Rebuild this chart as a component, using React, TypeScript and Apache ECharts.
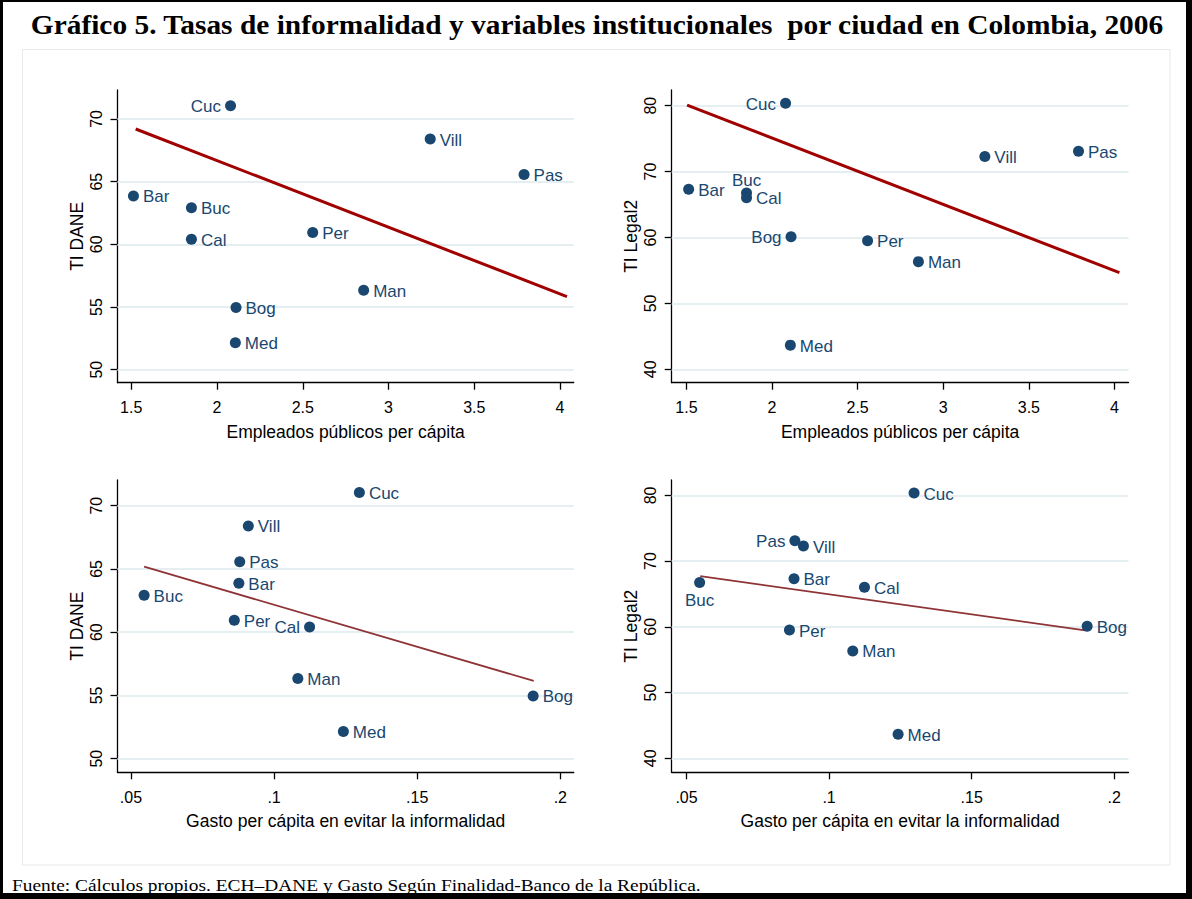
import React, { useEffect, useRef } from "react";
import * as echarts from "echarts";

// ---- Data ----
const cities = ["Bar", "Bog", "Buc", "Cal", "Cuc", "Man", "Med", "Pas", "Per", "Vill"];
const empleadosPc = [1.513, 2.111, 1.851, 1.851, 2.079, 2.855, 2.107, 3.79, 2.558, 3.243];
const gastoPc = [0.0877, 0.1905, 0.0546, 0.1124, 0.1298, 0.1083, 0.1242, 0.088, 0.0861, 0.091];
const tiDane = [63.86, 54.96, 62.91, 60.41, 71.05, 56.34, 52.14, 65.57, 60.95, 68.4];
const tiLegal2 = [67.33, 60.1, 66.75, 66.04, 80.36, 56.34, 43.67, 73.09, 59.52, 72.3];

// fitted lines (end points)
const fitEmpDane = [[1.526, 69.2], [4.04, 55.83]];
const fitEmpLegal = [[1.504, 80.1], [4.029, 54.67]];
const fitGastoDane = [[0.0546, 65.18], [0.1907, 56.14]];
const fitGastoLegal = [[0.0548, 67.71], [0.1898, 59.47]];

// tick labels
const xTicksEmp = [1.5, 2, 2.5, 3, 3.5, 4];
const xTicksGasto = [0.05, 0.1, 0.15, 0.2];
const yTicksDane = [50, 55, 60, 65, 70];
const yTicksLegal = [40, 50, 60, 70, 80];

const titleText =
  "Gráfico 5. Tasas de informalidad y variables institucionales  por ciudad en Colombia, 2006";
const footerText =
  "Fuente: Cálculos propios. ECH–DANE y Gasto Según Finalidad-Banco de la República.";
const xNameEmp = "Empleados públicos per cápita";
const xNameGasto = "Gasto per cápita en evitar la informalidad";
const yNameDane = "TI DANE";
const yNameLegal = "TI Legal2";

// ---- Layout / style ----
const NAVY = "#1a476f";
const SANS = "Arial, 'Liberation Sans', Helvetica, sans-serif";
const SERIF = "'Times New Roman', 'Liberation Serif', serif";
const GRID_COLOR = "#e5eef0";

const grids = [
  { left: 117.5, top: 90, width: 456.3, height: 292.7 },
  { left: 671.7, top: 90, width: 456.8, height: 292.7 },
  { left: 117.5, top: 480, width: 456.3, height: 292.3 },
  { left: 671.7, top: 480, width: 456.8, height: 292.3 },
];
const xRanges = [
  [1.42, 4.08],
  [1.414, 4.082],
  [0.0453, 0.2047],
  [0.0448, 0.205],
];
const yRanges = [
  [48.96, 72.31],
  [37.97, 82.38],
  [48.92, 72.03],
  [37.88, 82.34],
];
const labelPositions: Record<string, any>[] = [
  { Cuc: "left" },
  { Cuc: "left", Bog: "left", Buc: "top" },
  { Cal: "left" },
  { Pas: "left", Buc: "bottom" },
];
const fitStyles = [
  { color: "#a00000", width: 3 },
  { color: "#a00000", width: 3 },
  { color: "#8f3436", width: 1.8 },
  { color: "#8f3436", width: 1.8 },
];

const gastoFmt = (v: number) => String(v).replace(/^0\./, ".");

function makeAxes(i: number, xTicks: number[], yTicks: number[], xName: string, yName: string, xFmt?: any) {
  const axisLine = { show: true, lineStyle: { color: "#000", width: 1.3 } };
  const axisTick = (vals: number[]) => ({
    show: true,
    length: 7,
    lineStyle: { color: "#000", width: 1.3 },
    customValues: vals,
  });
  const x = {
    type: "value",
    gridIndex: i,
    min: xRanges[i][0],
    max: xRanges[i][1],
    axisLine,
    axisTick: axisTick(xTicks),
    axisLabel: {
      customValues: xTicks,
      margin: 17,
      fontSize: 16,
      fontFamily: SANS,
      color: "#000",
      formatter: xFmt,
    },
    splitLine: { show: false },
    name: xName,
    nameLocation: "middle",
    nameGap: 40,
    nameTextStyle: { fontSize: 17.5, fontFamily: SANS, color: "#000" },
  };
  const y = {
    type: "value",
    gridIndex: i,
    min: yRanges[i][0],
    max: yRanges[i][1],
    axisLine,
    axisTick: axisTick(yTicks),
    axisLabel: {
      customValues: yTicks,
      rotate: 90,
      margin: 13,
      fontSize: 16,
      fontFamily: SANS,
      color: "#000",
    },
    splitLine: { show: false },
    name: yName,
    nameLocation: "middle",
    nameGap: 32,
    nameTextStyle: { fontSize: 17.5, fontFamily: SANS, color: "#000" },
  };
  return { x, y };
}

function makeSeries(i: number, xs: number[], ys: number[], fit: number[][], yTicks: number[]) {
  const pos = labelPositions[i];
  const pts = cities.map((c, k) => {
    const p = pos[c] || "right";
    const dist = p === "top" ? 0 : p === "bottom" ? 3.5 : 4;
    return { value: [xs[k], ys[k]], name: c, label: { position: p, distance: dist } };
  });
  return [
    {
      type: "line",
      xAxisIndex: i,
      yAxisIndex: i,
      data: fit,
      symbol: "none",
      lineStyle: { opacity: 0 },
      z: 1,
      silent: true,
      markLine: {
        silent: true,
        z: 1,
        symbol: "none",
        label: { show: false },
        emphasis: { disabled: true },
        lineStyle: { color: GRID_COLOR, width: 2, type: "solid" },
        data: yTicks.map((v) => ({ yAxis: v })),
      },
    },
    {
      type: "line",
      xAxisIndex: i,
      yAxisIndex: i,
      data: fit,
      symbol: "none",
      lineStyle: { color: fitStyles[i].color, width: fitStyles[i].width },
      z: 3,
      silent: true,
    },
    {
      type: "scatter",
      xAxisIndex: i,
      yAxisIndex: i,
      data: pts,
      symbol: "circle",
      symbolSize: 11,
      itemStyle: { color: NAVY, opacity: 1 },
      z: 4,
      label: {
        show: true,
        formatter: "{b}",
        fontSize: 17,
        fontFamily: SANS,
        color: NAVY,
        offset: [0, 1],
      },
    },
  ];
}

export default function App() {
  const ref = useRef<HTMLDivElement>(null);
  useEffect(() => {
    if (!ref.current) return;
    const chart = echarts.init(ref.current, null, { renderer: "svg" });
    const a0 = makeAxes(0, xTicksEmp, yTicksDane, xNameEmp, yNameDane);
    const a1 = makeAxes(1, xTicksEmp, yTicksLegal, xNameEmp, yNameLegal);
    const a2 = makeAxes(2, xTicksGasto, yTicksDane, xNameGasto, yNameDane, gastoFmt);
    const a3 = makeAxes(3, xTicksGasto, yTicksLegal, xNameGasto, yNameLegal, gastoFmt);
    chart.setOption({
      animation: false,
      backgroundColor: "#ffffff",
      grid: grids.map((g) => ({ ...g, containLabel: false })),
      xAxis: [a0.x, a1.x, a2.x, a3.x],
      yAxis: [a0.y, a1.y, a2.y, a3.y],
      series: [
        ...makeSeries(0, empleadosPc, tiDane, fitEmpDane, yTicksDane),
        ...makeSeries(1, empleadosPc, tiLegal2, fitEmpLegal, yTicksLegal),
        ...makeSeries(2, gastoPc, tiDane, fitGastoDane, yTicksDane),
        ...makeSeries(3, gastoPc, tiLegal2, fitGastoLegal, yTicksLegal),
      ],
      graphic: [
        {
          type: "rect",
          shape: { x: 22.5, y: 49.5, width: 1147.5, height: 815.5 },
          style: { fill: "none", stroke: "#e9e9e9", lineWidth: 1 },
          silent: true,
        },
        {
          type: "text",
          x: 597,
          y: 25,
          scaleX: 1.11,
          style: {
            text: titleText,
            fontSize: 26.5,
            fontWeight: "bold",
            fontFamily: SERIF,
            fill: "#000",
            align: "center",
            verticalAlign: "middle",
          },
        },
        {
          type: "text",
          x: 12,
          y: 885,
          scaleX: 1.142,
          style: {
            text: footerText,
            fontSize: 17,
            fontFamily: SERIF,
            fill: "#000",
            align: "left",
            verticalAlign: "middle",
          },
        },
        { type: "rect", shape: { x: 0, y: 0, width: 3, height: 899 }, style: { fill: "#000" }, silent: true },
        { type: "rect", shape: { x: 0, y: 0, width: 1192, height: 2 }, style: { fill: "#000" }, silent: true },
        { type: "rect", shape: { x: 1186, y: 0, width: 6, height: 899 }, style: { fill: "#000" }, silent: true },
        { type: "rect", shape: { x: 0, y: 893, width: 1192, height: 6 }, style: { fill: "#000" }, silent: true },
      ],
    });
    return () => chart.dispose();
  }, []);
  return (
    <div
      ref={ref}
      style={{ position: "absolute", left: 0, top: 0, width: 1192, height: 899, background: "#fff" }}
    />
  );
}
